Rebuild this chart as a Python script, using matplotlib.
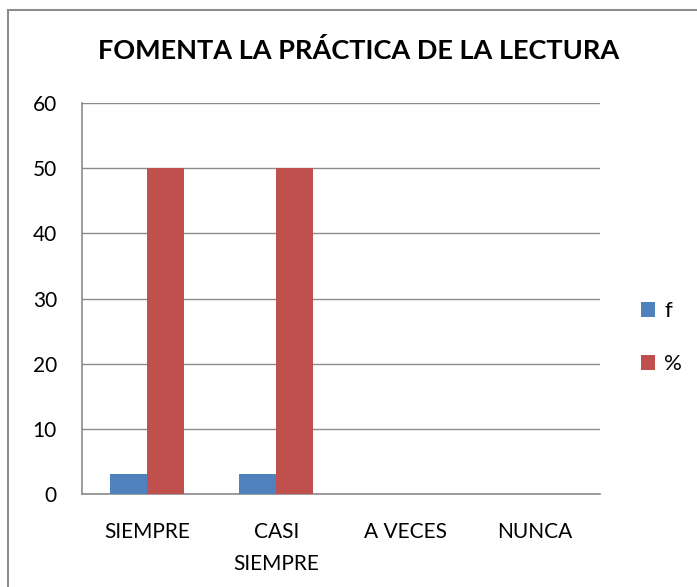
import matplotlib
matplotlib.use("Agg")
import matplotlib.pyplot as plt
from matplotlib.patches import Rectangle
import numpy as np

categories = ["SIEMPRE", "CASI\nSIEMPRE", "A VECES", "NUNCA"]
f_values = [3, 3, 0, 0]
pct_values = [50, 50, 0, 0]
series_names = ["f", "%"]

plt.rcParams['font.family'] = ['Lato', 'DejaVu Sans']

fig = plt.figure(figsize=(6.97, 5.87), dpi=100)
ax = fig.add_axes([0.1176, 0.1584, 0.7432, 0.666])

x = np.arange(len(categories))
w = 1 / 3.5
ax.bar(x - w / 2, f_values, width=w, color="#4f81bd", label=series_names[0], zorder=3)
ax.bar(x + w / 2, pct_values, width=w, color="#c0504d", label=series_names[1], zorder=3)

ax.set_xlim(-0.5, len(categories) - 0.5)
ax.set_ylim(0, 60)
ax.set_yticks(range(0, 61, 10))
ax.yaxis.grid(True, color="#8c8c8c", linewidth=1, zorder=0)
ax.set_xticks(x)
ax.set_xticklabels(categories, fontsize=15, linespacing=1.75)
ax.tick_params(axis="x", length=0, pad=20)
ax.tick_params(axis="y", labelsize=15, length=0, pad=18)

for side in ["top", "right"]:
    ax.spines[side].set_visible(False)
for side in ["left", "bottom"]:
    ax.spines[side].set_color("#8c8c8c")
    ax.spines[side].set_linewidth(1.2)

fig.text(0.514, 0.914, "FOMENTA LA PRÁCTICA DE LA LECTURA", ha="center", va="center",
         fontsize=19.5, fontweight="bold")

ax.legend(loc="center left", bbox_to_anchor=(1.04, 0.40), frameon=False, fontsize=16,
          handlelength=0.65, handleheight=0.65, handletextpad=0.4, labelspacing=1.5)

fig.patches.append(Rectangle((8 / 697, -0.1), 1.0, 1 - 10 / 587 + 0.1, transform=fig.transFigure,
                             fill=False, edgecolor="#8c8c8c", linewidth=1.5))

fig.savefig("out.png", dpi=100)
